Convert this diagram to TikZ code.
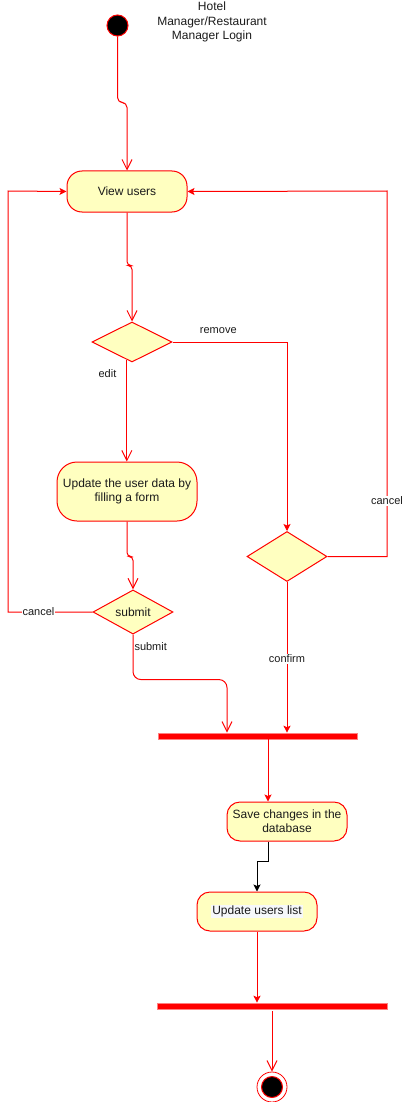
\documentclass[tikz,border=0pt]{standalone}
\usepackage{fontspec}
\setmainfont{Liberation Sans}
\usetikzlibrary{arrows.meta,shapes.geometric,calc}
\definecolor{fillY}{HTML}{FFFFC0}
\definecolor{txt}{HTML}{1A1A1A}
\definecolor{hl}{HTML}{F6F8FA}
\definecolor{barEdge}{HTML}{FF8080}
\begin{document}
\begin{tikzpicture}[x=1pt,y=-1pt,line width=1pt,
  act/.style={draw=red,fill=fillY,align=center,inner sep=0pt,text=txt,
    font=\fontsize{12}{14}\selectfont},
  dec/.style={diamond,draw=red,fill=fillY,inner sep=0pt,text=txt,
    font=\fontsize{12}{14}\selectfont},
  syncbar/.style={rectangle,draw=barEdge,fill=red,line width=0.6pt,inner sep=0pt,minimum height=6pt},
  lbl/.style={font=\fontsize{11}{13}\selectfont,text=txt,inner sep=1pt},
  openarr/.style={draw=red,-{Straight Barb[length=10pt,width=10pt]}},
  fillarr/.style={draw=red,-{Stealth[length=7pt,width=7pt,inset=1.5pt]}},
  blkarr/.style={draw=black,-{Stealth[length=7pt,width=7pt,inset=1.5pt]}},
  plain/.style={draw=red}]
\useasboundingbox (0,0) rectangle (404,1102);

% title
\node[align=center,text=txt,font=\fontsize{12}{14.5}\selectfont,inner sep=0pt] (title) at (212,22)
  {Hotel\\Manager/Restaurant\\Manager Login};

% nodes
\node[circle,draw=red,fill=black,minimum size=21pt,inner sep=0pt] (start) at (117.5,25.5) {};
\node[act,minimum width=120pt,minimum height=41pt,rounded corners=15pt] (view) at (127,191.5) {View users};
\node[dec,minimum width=80pt,minimum height=40pt] (d1) at (132,342) {};
\node[act,minimum width=140pt,minimum height=59pt,rounded corners=20pt] (upd) at (127,491.5)
  {Update the user data by\\filling a form};
\node[dec,minimum width=80pt,minimum height=40pt] (sub) at (133,612) {submit};
\node[dec,minimum width=80pt,minimum height=50pt] (d2) at (287,556.5) {};
\node[syncbar,minimum width=199pt] (bar1) at (257.5,736) {};
\node[act,minimum width=120pt,minimum height=39pt,rounded corners=13pt] (save) at (287,821.5)
  {Save changes in the\\database};
\node[act,minimum width=120pt,minimum height=39pt,rounded corners=13pt] (list) at (257,911.5)
  {{\setlength\fboxsep{1pt}\colorbox{hl}{Update users list}}};
\node[syncbar,minimum width=230pt] (bar2) at (272,1006) {};
\node[circle,draw=red,line width=0.8pt,fill=white,minimum size=30pt,inner sep=0pt] (endo) at (272,1087) {};
\node[circle,draw=red,fill=black,minimum size=21pt,inner sep=0pt] (endi) at (endo.center) {};

% helper coordinates
\coordinate (lc) at (8,191);
\coordinate (rc) at (387,191);
\coordinate (b1in) at ($(bar1.north)+(-30.5,0)$);
\coordinate (b1out) at ($(bar1.south)+(10.5,0)$);
\coordinate (sout) at ($(save.south)+(-19,0)$);

% connectors
\draw[openarr,rounded corners=5pt] (start.south) -- ++(0,66) -| (view.north);
\draw[openarr,rounded corners=4pt] (view.south) -- ++(0,53) -| (d1.north);
\draw[openarr] (d1.-106) -- node[lbl,pos=0.13,left=9pt] {edit} (d1.-106 |- upd.north);
\draw[fillarr] (d1.east) -| node[lbl,pos=0.2,yshift=11pt] {remove} (d2.north);
\draw[fillarr] (d2.east) -| node[lbl,pos=0.576,fill=white] {cancel} (rc) -- (view.east);
\draw[openarr,rounded corners=4pt] (upd.south) -- ++(0,35) -| (sub.north);
\draw[fillarr] (sub.west) -| node[lbl,pos=0.32,fill=white] {cancel} (lc) -- (view.west);
\draw[openarr,rounded corners=8pt] (sub.south) -- node[lbl,pos=0.27,anchor=west,xshift=0pt] {submit} ++(0,45) -| (b1in);
\draw[fillarr] (d2.south) -- node[lbl,pos=0.51,fill=white] {confirm} (d2.south |- bar1.north);
\draw[fillarr] (b1out) -- (b1out |- save.north);
\draw[blkarr] (sout) -- ++(0,20) -| (list.north);
\draw[fillarr] (list.south) -- (list.south |- bar2.north);
\draw[openarr] ($(bar2.south)+(0,2)$) -- (endo.north);
\end{tikzpicture}
\end{document}
